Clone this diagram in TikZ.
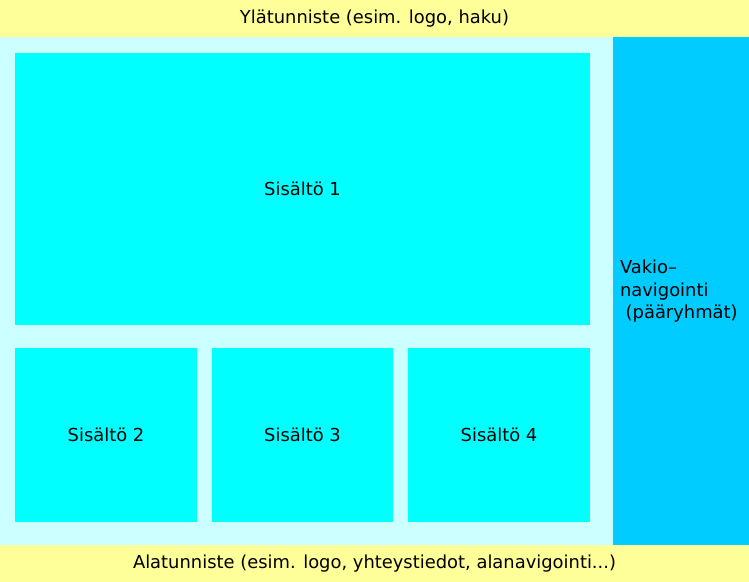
\documentclass[tikz,border=0pt]{standalone}
\usepackage{fontspec}
\setmainfont{DejaVu Sans}
\definecolor{hdr}{HTML}{FFFF99}
\definecolor{bgc}{HTML}{CCFFFF}
\definecolor{cell}{HTML}{00FFFF}
\definecolor{navc}{HTML}{00CCFF}
\begin{document}
\begin{tikzpicture}[x=1bp,y=-1bp,
  lbl/.style={font=\fontsize{17.9bp}{22.5bp}\selectfont, text=black},
  block/.style={inner sep=0pt, outer sep=0pt}]
\useasboundingbox (0,0) rectangle (749,582);
% bands
\fill[bgc] (0,37) rectangle (613,545);
\path[fill=hdr] (0,0) rectangle (749,37) node[block, midway, lbl] (hdr) {Ylätunniste (esim. logo, haku)};
\path[fill=hdr] (0,545) rectangle (749,582) node[block, midway, lbl] (ftr) {Alatunniste (esim. logo, yhteystiedot, alanavigointi...)};
\path[fill=navc] (613,37) rectangle (749,545) coordinate (navbr);
\node[block, lbl, anchor=west, align=left] (nav) at (620,291.5) {Vakio–\\navigointi\\\ (pääryhmät)};
% content cells
\path[fill=cell] (15,53) rectangle (590,325) node[block, midway, lbl] (c1) {Sisältö 1};
\path[fill=cell] (15,348) rectangle (197,522) node[block, midway, lbl] (c2) {Sisältö 2};
\path[fill=cell] (212,348) rectangle (393,522) node[block, midway, lbl] (c3) {Sisältö 3};
\path[fill=cell] (408,348) rectangle (590,522) node[block, midway, lbl] (c4) {Sisältö 4};
\end{tikzpicture}
\end{document}
